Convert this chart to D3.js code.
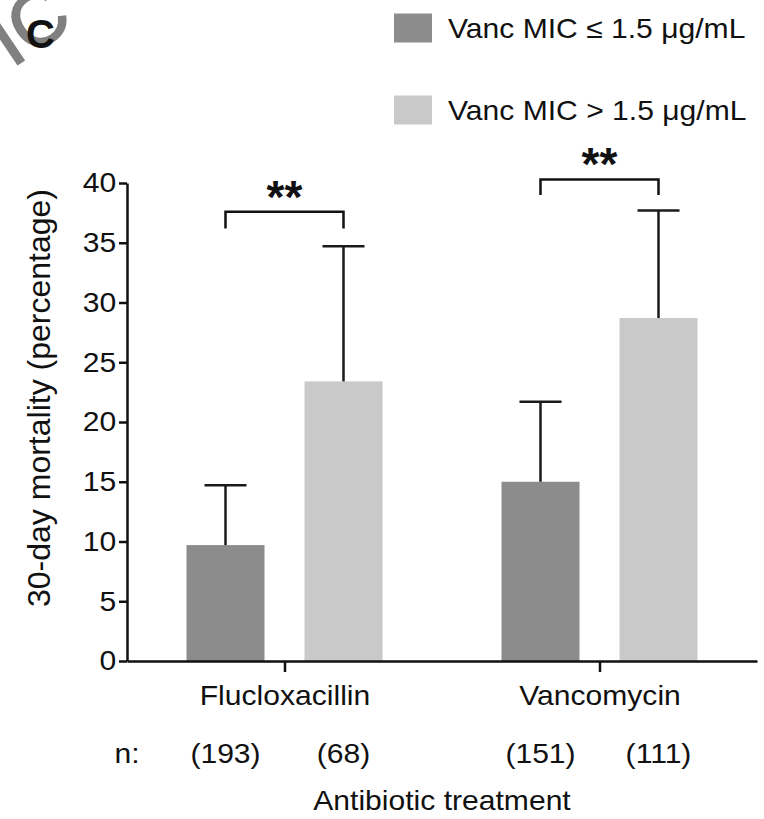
<!DOCTYPE html>
<html>
<head>
<meta charset="utf-8">
<script src="https://cdn.jsdelivr.net/npm/d3@7"></script>
<style>
  body { margin: 0; background: #fff; }
  svg text { font-family: "Liberation Sans", Arial, Helvetica, sans-serif; fill: #111; }
</style>
</head>
<body>
<div id="chart"></div>
<script>
// data
const groups = ["Flucloxacillin", "Vancomycin"];
const series = ["Vanc MIC \u2264 1.5 \u03bcg/mL", "Vanc MIC > 1.5 \u03bcg/mL"];
const mortality = [[9.7, 23.4], [15.0, 28.7]];
const upperError = [[14.7, 34.7], [21.7, 37.7]];
const nCounts = [[193, 68], [151, 111]];
const yTicks = [0, 5, 10, 15, 20, 25, 30, 35, 40];
const bracketTop = [37.6, 40.3];
const bracketFoot = [36.2, 39.0];
const sigLabels = ["**", "**"];

const colors = ["#8c8c8c", "#c9c9c9"];
const width = 764, height = 819;
const sx = 1.075; // the figure's text is a bit wide

const svg = d3.select("#chart").append("svg")
    .attr("width", width)
    .attr("height", height);

const label = (g, x, y, txt, anchor, size) =>
    g.append("text")
        .attr("transform", `translate(${x},${y}) scale(${sx},1)`)
        .attr("text-anchor", anchor)
        .attr("font-size", size + "px")
        .text(txt);

// watermark fragment + panel letter
svg.append("text")
    .attr("transform", "translate(12,68) rotate(-34)")
    .attr("font-size", "76px")
    .style("fill", "#808080")
    .style("stroke", "#808080")
    .style("stroke-width", 2)
    .text("IC");

svg.append("text")
    .attr("x", 26)
    .attr("y", 48)
    .attr("font-size", "40px")
    .attr("font-weight", 700)
    .text("C");

const x0 = d3.scalePoint().domain(groups).range([127, 757]).padding(0.5);
const x1 = d3.scaleBand().domain(series).range([-98, 98]).paddingInner(0.339);
const y = d3.scaleLinear().domain([0, 40]).range([661, 183]);

const barX = (gi, si) => x0(groups[gi]) + x1(series[si]);
const barC = (gi, si) => barX(gi, si) + x1.bandwidth() / 2;

// bars
const rows = [];
groups.forEach((g, gi) => series.forEach((s, si) =>
    rows.push({ gi, si, v: mortality[gi][si], e: upperError[gi][si], n: nCounts[gi][si] })));

svg.append("g").selectAll("rect")
    .data(rows)
    .enter()
    .append("rect")
    .attr("x", d => barX(d.gi, d.si))
    .attr("y", d => y(d.v))
    .attr("width", x1.bandwidth())
    .attr("height", d => y(0) - y(d.v))
    .attr("fill", d => colors[d.si]);

// error bars (upper only)
const eb = svg.append("g")
    .attr("stroke", "#1a1a1a")
    .attr("stroke-width", 2.5);
const capW = 21;
eb.selectAll(".stem")
    .data(rows)
    .enter()
    .append("line")
    .attr("x1", d => barC(d.gi, d.si))
    .attr("x2", d => barC(d.gi, d.si))
    .attr("y1", d => y(d.v))
    .attr("y2", d => y(d.e));
eb.selectAll(".cap")
    .data(rows)
    .enter()
    .append("line")
    .attr("x1", d => barC(d.gi, d.si) - capW)
    .attr("x2", d => barC(d.gi, d.si) + capW)
    .attr("y1", d => y(d.e))
    .attr("y2", d => y(d.e));

// axes
const yAxis = svg.append("g")
    .attr("transform", "translate(127,0)")
    .call(d3.axisLeft(y).tickValues(yTicks).tickSize(8).tickPadding(2).tickSizeOuter(0));

const xAxis = svg.append("g")
    .attr("transform", `translate(0,${y(0)})`)
    .call(d3.axisBottom(x0).tickSize(11).tickPadding(13).tickSizeOuter(0));

[yAxis, xAxis].forEach(ax => {
    ax.attr("font-size", "28px").attr("font-family", null);
    ax.selectAll("path, line").attr("stroke", "#111").attr("stroke-width", 2.5);
    ax.selectAll("text").attr("transform", `scale(${sx},1)`);
});

// significance brackets
const br = svg.append("g");
groups.forEach((g, gi) => {
    const xa = barC(gi, 0), xb = barC(gi, 1);
    br.append("path")
        .attr("d", `M${xa},${y(bracketFoot[gi])}V${y(bracketTop[gi])}H${xb}V${y(bracketFoot[gi])}`)
        .attr("fill", "none")
        .attr("stroke", "#111")
        .attr("stroke-width", 2.5);
    br.append("text")
        .attr("x", (xa + xb) / 2)
        .attr("y", y(bracketTop[gi]) + 1)
        .attr("text-anchor", "middle")
        .attr("font-size", "46px")
        .attr("font-weight", 700)
        .text(sigLabels[gi]);
});

// sample sizes and x title
label(svg, 127, 763, "n:", "middle", 28);
rows.forEach(d => label(svg, barC(d.gi, d.si), 763, `(${d.n})`, "middle", 28));
label(svg, 442, 810, "Antibiotic treatment", "middle", 28);

// y title
svg.append("text")
    .attr("transform", `translate(50,${(y(0) + y(40)) / 2 - 24}) rotate(-90)`)
    .attr("text-anchor", "middle")
    .attr("font-size", "32px")
    .text("30-day mortality (percentage)");

// legend
const leg = svg.append("g");
series.forEach((s, i) => {
    const cy = 28 + i * 82;
    leg.append("rect")
        .attr("x", 394)
        .attr("y", cy - 14.5)
        .attr("width", 38)
        .attr("height", 29)
        .attr("fill", colors[i]);
    label(leg, 448, cy + 10, s, "start", 28);
});
</script>
</body>
</html>
